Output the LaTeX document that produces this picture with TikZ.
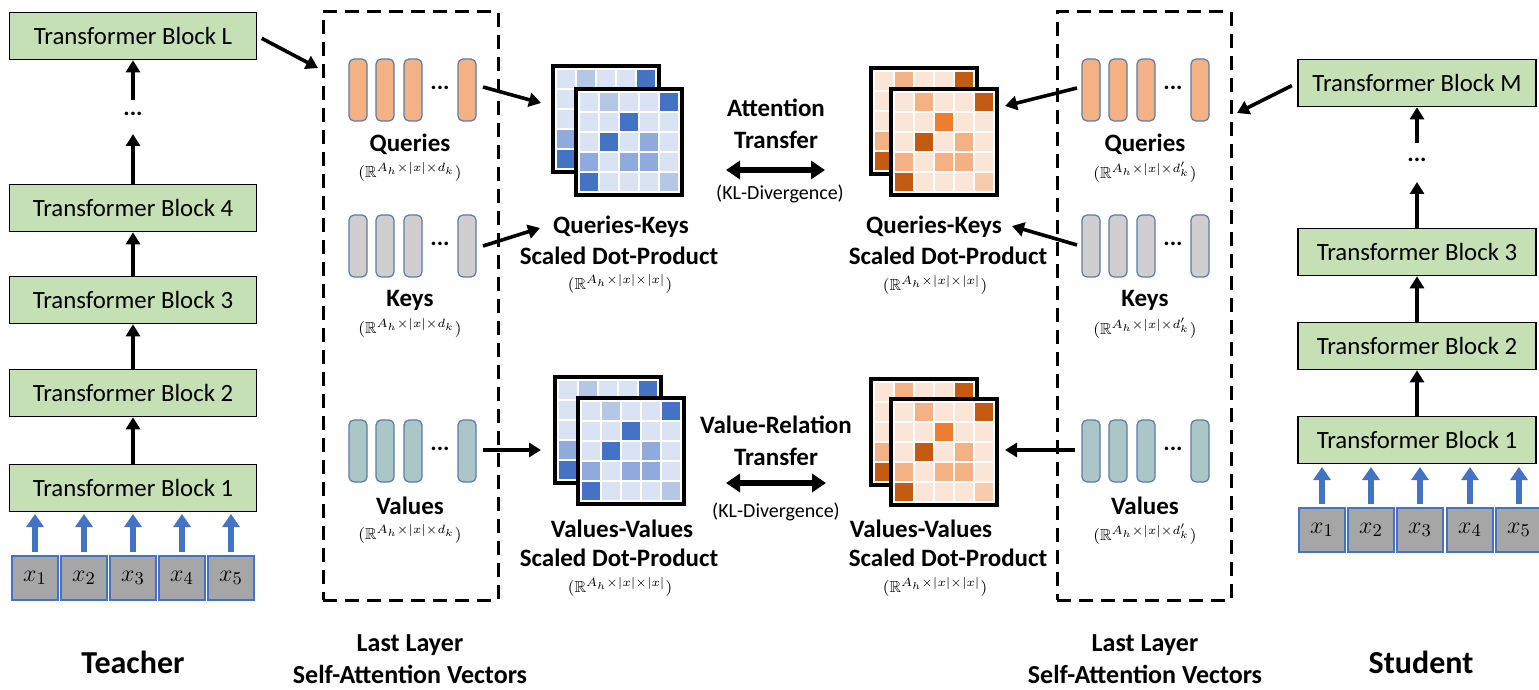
\documentclass[tikz,border=0pt]{standalone}
\usepackage{amssymb}
\usepackage{fontspec}
\setmainfont{Carlito}
\usetikzlibrary{arrows.meta}

\definecolor{blockgreen}{HTML}{C5E0B4}
\definecolor{tokgray}{HTML}{A6A6A6}
\definecolor{tokblue}{HTML}{4472C4}
\definecolor{qfill}{HTML}{F4B183}
\definecolor{kfill}{HTML}{D0CECE}
\definecolor{vfill}{HTML}{ABC6C6}
\definecolor{vecedge}{HTML}{5B7BAA}
% blue heat-map palette
\definecolor{bL}{HTML}{DAE3F3}
\definecolor{bA}{HTML}{B4C7E7}
\definecolor{bB}{HTML}{8FAADC}
\definecolor{bD}{HTML}{4472C4}
\definecolor{bX}{HTML}{4472C4}
\definecolor{bY}{HTML}{B4C7E7}
% orange heat-map palette
\definecolor{oL}{HTML}{FBE5D6}
\definecolor{oA}{HTML}{F4B183}
\definecolor{oB}{HTML}{F4B183}
\definecolor{oD}{HTML}{C55A11}
\definecolor{oX}{HTML}{ED7D31}
\definecolor{oY}{HTML}{F8CBAD}

% 5x5 attention map with its top-left corner at (#1,#2), palette prefix #3
\newcommand\attnmap[3]{%
  \fill[white] (#1,#2) rectangle ++(110,110);
  \draw[line width=2.2pt] (#1+2,#2+2) rectangle ++(106,106);
  \foreach \rowcodes [count=\rr from 0] in
      {{L,A,L,L,D},{L,L,X,L,L},{L,D,L,B,L},{B,L,B,B,L},{D,L,L,L,Y}}{
    \foreach \cc [count=\ci from 0] in \rowcodes {
      \edef\cellcol{#3\cc}
      \fill[fill=\cellcol] (#1+5+20*\ci+1,#2+5+20*\rr+1) rectangle ++(18,18);
    }
  }%
}

\tikzset{
  tfblock/.style={draw=black, line width=0.8pt, fill=blockgreen,
    minimum height=23.5pt, inner sep=0pt, font=\fontsize{12.4}{14}\selectfont},
  teachblock/.style={tfblock, minimum width=123.5pt},
  studblock/.style={tfblock, minimum width=119pt},
  tokbox/.style={draw=tokblue, line width=0.6pt, fill=tokgray,
    minimum width=23pt, minimum height=22pt, inner sep=0pt,
    font=\fontsize{13}{15}\selectfont},
  tokarrow/.style={tokblue, line width=2.6pt, -{Triangle[width=8.5pt,length=6.5pt]}},
  blkarrow/.style={black, line width=1.8pt, -{Triangle[width=7pt,length=6pt]}},
  dblarrow/.style={black, line width=3pt,
    {Triangle[width=9pt,length=7pt]}-{Triangle[width=9pt,length=7pt]}},
  vecbar/.style={draw=vecedge, line width=0.6pt, rounded corners=2.5pt,
    minimum width=9pt, minimum height=31pt, inner sep=0pt},
  dashbox/.style={draw=black, line width=1.5pt, dash pattern=on 7pt off 4pt,
    inner sep=0pt},
  boldlbl/.style={font=\bfseries\fontsize{12.5}{15}\selectfont, inner sep=0pt},
  mtxsub/.style={font=\fontsize{8}{10}\selectfont, inner sep=0pt},
  kllbl/.style={font=\fontsize{10}{12}\selectfont, inner sep=0pt},
  bottomlbl/.style={font=\bfseries\fontsize{13}{15}\selectfont, inner sep=0pt},
  rolelbl/.style={font=\bfseries\fontsize{16}{19}\selectfont, inner sep=0pt},
  dotlbl/.style={font=\bfseries\fontsize{12}{14}\selectfont, inner sep=0pt},
}

\begin{document}
\begin{tikzpicture}[x=0.5pt,y=-0.5pt]
\useasboundingbox (0,0) rectangle (1539,690);

% ---------------- teacher stack ----------------
\node[teachblock] (tL) at (133,36)  {Transformer Block L};
\node[dotlbl]     (tdots) at (133,114) {...};
\node[teachblock] (t4) at (133,208) {Transformer Block 4};
\node[teachblock] (t3) at (133,300) {Transformer Block 3};
\node[teachblock] (t2) at (133,393) {Transformer Block 2};
\node[teachblock] (t1) at (133,488) {Transformer Block 1};
\coordinate (tdtop) at (133,100);
\coordinate (tdbot) at (133,134);
\draw[blkarrow] (tdtop) -- (tL.south);
\draw[blkarrow] (t4.north) -- (tdbot);
\draw[blkarrow] (t3.north) -- (t4.south);
\draw[blkarrow] (t2.north) -- (t3.south);
\draw[blkarrow] (t1.north) -- (t2.south);

\foreach \i/\xx in {1/35,2/84,3/133,4/182,5/231}{
  \node[tokbox] (tx\i) at (\xx,578) {$x_{\i}$};
  \coordinate (txt\i) at (\xx,514);
  \draw[tokarrow] ([yshift=1.5pt]tx\i.north) -- (txt\i);
}
\node[rolelbl] (teacher) at (133,662) {Teacher};

% ---------------- student stack ----------------
\node[studblock] (sM) at (1417,83)  {Transformer Block M};
\node[dotlbl]    (sdots) at (1417,160) {...};
\node[studblock] (s3) at (1417,252) {Transformer Block 3};
\node[studblock] (s2) at (1417,346) {Transformer Block 2};
\node[studblock] (s1) at (1417,440) {Transformer Block 1};
\coordinate (sdtop) at (1417,143);
\coordinate (sdbot) at (1417,182);
\draw[blkarrow] (sdtop) -- (sM.south);
\draw[blkarrow] (s3.north) -- (sdbot);
\draw[blkarrow] (s2.north) -- (s3.south);
\draw[blkarrow] (s1.north) -- (s2.south);

\foreach \i/\xx in {1/1322,2/1371,3/1420,4/1470,5/1519}{
  \node[tokbox] (sx\i) at (\xx,530) {$x_{\i}$};
  \coordinate (sxt\i) at (\xx,467);
  \draw[tokarrow] ([yshift=1.5pt]sx\i.north) -- (sxt\i);
}
\node[rolelbl] (student) at (1421,662) {Student};

% ---------------- self-attention vector panels ----------------
\node[dashbox, minimum width=87.5pt, minimum height=294pt] (lbox) at (410.5,306) {};
\node[dashbox, minimum width=87pt, minimum height=294pt] (rbox) at (1144,306) {};

\foreach \side/\xa/\xb/\xc/\xd/\xdots in {l/358/385/413/467/440, r/1091/1118/1146/1200/1173}{
  \foreach \kind/\yy/\col in {q/90/qfill, k/246/kfill, v/451/vfill}{
    \node[vecbar, fill=\col] (\side\kind1) at (\xa,\yy) {};
    \node[vecbar, fill=\col] (\side\kind2) at (\xb,\yy) {};
    \node[vecbar, fill=\col] (\side\kind3) at (\xc,\yy) {};
    \node[vecbar, fill=\col] (\side\kind4) at (\xd,\yy) {};
    \node[dotlbl] (\side\kind dots) at (\xdots,\yy-2) {...};
  }
}

\foreach \xx/\dk/\side in {410/{d_k}/l, 1145/{d'_k}/r}{
  \node[boldlbl] (\side qlab) at (\xx,144) {Queries};
  \node[mtxsub]  (\side qsub) at (\xx,172) {$(\mathbb{R}^{A_h\times|x|\times \dk})$};
  \node[boldlbl] (\side klab) at (\xx,300) {Keys};
  \node[mtxsub]  (\side ksub) at (\xx,328) {$(\mathbb{R}^{A_h\times|x|\times \dk})$};
  \node[boldlbl] (\side vlab) at (\xx,506) {Values};
  \node[mtxsub]  (\side vsub) at (\xx,534) {$(\mathbb{R}^{A_h\times|x|\times \dk})$};
  \node[bottomlbl] (\side last) at (\xx,645) {Last Layer};
  \node[bottomlbl] (\side self) at (\xx,674) {Self-Attention Vectors};
}

% ---------------- attention maps ----------------
\attnmap{551}{64}{b}
\attnmap{574}{87}{b}
\attnmap{553}{375}{b}
\attnmap{576}{396}{b}
\attnmap{869}{66}{o}
\attnmap{889}{87}{o}
\attnmap{869}{377}{o}
\attnmap{889}{397}{o}

\node[boldlbl] (bqk1) at (621,227) {Queries-Keys};
\node[boldlbl] (bqk2) at (619,256) {Scaled Dot-Product};
\node[mtxsub]  (bqk3) at (620,284) {$(\mathbb{R}^{A_h\times|x|\times|x|})$};
\node[boldlbl] (oqk1) at (934,227) {Queries-Keys};
\node[boldlbl] (oqk2) at (948,256) {Scaled Dot-Product};
\node[mtxsub]  (oqk3) at (935,285) {$(\mathbb{R}^{A_h\times|x|\times|x|})$};
\node[boldlbl] (bvv1) at (622,529) {Values-Values};
\node[boldlbl] (bvv2) at (619,558) {Scaled Dot-Product};
\node[mtxsub]  (bvv3) at (620,587) {$(\mathbb{R}^{A_h\times|x|\times|x|})$};
\node[boldlbl] (ovv1) at (921,529) {Values-Values};
\node[boldlbl] (ovv2) at (948,558) {Scaled Dot-Product};
\node[mtxsub]  (ovv3) at (935,587) {$(\mathbb{R}^{A_h\times|x|\times|x|})$};

% ---------------- transfer objectives ----------------
\node[boldlbl] (at1) at (776,108) {Attention};
\node[boldlbl] (at2) at (776,140) {Transfer};
\coordinate (atl) at (726,170);
\coordinate (atr) at (825,170);
\draw[dblarrow] (atl) -- (atr);
\node[kllbl] (at3) at (780,194) {(KL-Divergence)};

\node[boldlbl] (vr1) at (776,425) {Value-Relation};
\node[boldlbl] (vr2) at (776,457) {Transfer};
\coordinate (vrl) at (726,483);
\coordinate (vrr) at (826,483);
\draw[dblarrow] (vrl) -- (vrr);
\node[kllbl] (vr3) at (776,512) {(KL-Divergence)};

% ---------------- connectors ----------------
\coordinate (lboxin) at (318,68);
\coordinate (rboxin) at (1237,113);
\draw[blkarrow, shorten <=2.5pt] (tL.east) -- (lboxin);
\draw[blkarrow, shorten <=3pt] (sM.west) -- (rboxin);

\coordinate (lqout) at (483,87);  \coordinate (bqin) at (541,103);
\coordinate (lkout) at (483,246); \coordinate (bkin) at (540,228);
\coordinate (lvout) at (483,450); \coordinate (bvin) at (541,450);
\draw[blkarrow] (lqout) -- (bqin);
\draw[blkarrow] (lkout) -- (bkin);
\draw[blkarrow] (lvout) -- (bvin);

\coordinate (rqout) at (1077,88);  \coordinate (oqin) at (1005,106);
\coordinate (rkout) at (1077,245); \coordinate (okin) at (1012,226);
\coordinate (rvout) at (1075,450); \coordinate (ovin) at (1005,450);
\draw[blkarrow] (rqout) -- (oqin);
\draw[blkarrow] (rkout) -- (okin);
\draw[blkarrow] (rvout) -- (ovin);
\end{tikzpicture}
\end{document}
